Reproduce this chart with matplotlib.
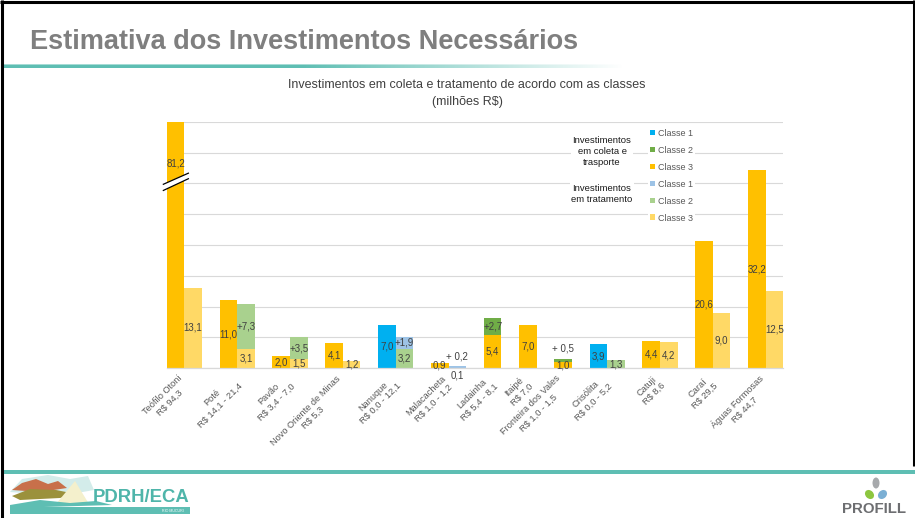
import numpy as np
import matplotlib
matplotlib.use("Agg")
import matplotlib.pyplot as plt
from matplotlib.patches import Patch, Polygon, Rectangle, Ellipse

plt.rcParams['font.family'] = ['Liberation Sans', 'DejaVu Sans']

# ---------------------------------------------------------------- data
municipios = ["Teófilo Otoni", "Poté", "Pavão", "Novo Oriente de Minas", "Nanuque",
              "Malacacheta", "Ladainha", "Itaipé", "Fronteira dos Vales", "Crisólita",
              "Catuji", "Caraí", "Águas Formosas"]
faixas = ["R$ 94,3", "R$ 14,1 - 21,4", "R$ 3,4 - 7,0", "R$ 5,3", "R$ 0,0 - 12,1",
          "R$ 1,0 - 1,2", "R$ 5,4 - 8,1", "R$ 7,0", "R$ 1,0 - 1,5", "R$ 0,0 - 5,2",
          "R$ 8,6", "R$ 29,5", "R$ 44,7"]

# investment in collection / transport (millions R$) by class
coleta_c1 = [0, 0, 0, 0, 7.0, 0, 0, 0, 0, 3.9, 0, 0, 0]
coleta_c2 = [0, 0, 0, 0, 0, 0, 2.7, 0, 0.5, 0, 0, 0, 0]
coleta_c3 = [81.2, 11.0, 2.0, 4.1, 0, 0.9, 5.4, 7.0, 1.0, 0, 4.4, 20.6, 32.2]
# investment in treatment (millions R$) by class
trat_c1 = [0, 0, 0, 0, 1.9, 0.2, 0, 0, 0, 0, 0, 0, 0]
trat_c2 = [0, 7.3, 3.5, 0, 3.2, 0.1, 0, 0, 0, 1.3, 0, 0, 0]
trat_c3 = [13.1, 3.1, 1.5, 1.2, 0, 0, 0, 0, 0, 0, 4.2, 9.0, 12.5]

classes = ["Classe 1", "Classe 2", "Classe 3"]

# ---------------------------------------------------------------- style
cor_coleta = ["#00B0F0", "#70AD47", "#FFC000"]
cor_trat = ["#9DC3E6", "#A9D18E", "#FFD966"]
TEAL = "#5EBEB3"
TXT = "#404040"
YMAX = 40

W, H = 915, 518
fig = plt.figure(figsize=(W / 100, H / 100), dpi=100)


def fx(x):
    return x / W


def fy(y):
    return 1 - y / H


# background / slide decoration axes in pixel coordinates
bg = fig.add_axes([0, 0, 1, 1], zorder=-5)
bg.axis("off")

# title + fading teal rule
bg.text(30, 42, "Estimativa dos Investimentos Necessários", fontsize=19.5,
        fontweight="bold", color="#7F7F7F", ha="left", va="center")
grad_w = 620
rgba = np.zeros((4, grad_w, 4))
rgba[..., :3] = np.array([0x5E, 0xBE, 0xB3]) / 255
alpha = np.clip((grad_w - np.arange(grad_w)) / (grad_w - 300), 0, 1)
rgba[..., 3] = alpha[None, :]
rgba[0, :, 3] *= 0.55
bg.imshow(rgba, extent=(3, 3 + grad_w, 68.5, 64.5), aspect="auto", interpolation="bilinear")

# slide frame
bg.plot([0, W], [1.5, 1.5], color="black", lw=2.2, solid_capstyle="butt")
bg.plot([1.5, 1.5], [0, H], color="black", lw=2.2, solid_capstyle="butt")
bg.plot([W - 1.5, W - 1.5], [0, 466], color="black", lw=2.2, solid_capstyle="butt")

# chart title
bg.text(467, 93.5, "Investimentos em coleta e tratamento de acordo com as classes\n(milhões R$)",
        fontsize=9, color=TXT, ha="center", va="center", linespacing=1.45)

# footer rule
bg.add_patch(Rectangle((3, 469.5), W - 3, 4, color=TEAL, lw=0))

# PDRH/ECA logo
bg.add_patch(Polygon([(10, 492), (22, 479), (48, 475), (70, 479), (88, 476), (94, 490), (60, 496)],
                     closed=True, color="#D3ECEA", lw=0))
bg.add_patch(Polygon([(12, 490), (22, 483), (36, 479), (48, 484), (58, 481), (67, 488), (40, 492)],
                     closed=True, color="#C8704A", lw=0))
bg.add_patch(Polygon([(12, 496), (30, 489), (56, 490), (76, 494), (60, 498), (20, 500)],
                     closed=True, color="#9B913C", lw=0))
bg.add_patch(Polygon([(56, 504), (75, 481), (89, 504)], closed=True, color="#F4F0CC", lw=0))
bg.add_patch(Polygon([(10, 505), (40, 500), (70, 503), (96, 501), (112, 505), (10, 508)],
                     closed=True, color=TEAL, lw=0))
bg.add_patch(Rectangle((10, 507), 180, 7, color=TEAL, lw=0))
bg.text(141, 497.5, "PDRH/ECA", fontsize=13.3, fontweight="bold", color="#4FB5AA",
        ha="center", va="center")
bg.text(184, 510.8, "RIO MUCURI", fontsize=2.6, color="white", ha="right", va="center")

# PROFILL logo
bg.add_patch(Ellipse((876, 483), 7, 11, color="#A7A9AC", lw=0))
bg.add_patch(Ellipse((869.5, 494.5), 8, 10, angle=-45, color="#8DC63F", lw=0))
bg.add_patch(Ellipse((882.5, 494.5), 8, 10, angle=45, color="#7BAFD4", lw=0))
bg.text(874, 509, "PROFILL", fontsize=10.8, fontweight="bold", color="#6D6E71",
        ha="center", va="center")

bg.set_xlim(0, W)
bg.set_ylim(H, 0)

# ---------------------------------------------------------------- chart
ax = fig.add_axes([fx(166.7), fy(368.3), fx(783.3) - fx(166.7), fy(121.7) - fy(368.3)], zorder=1)

# bar slots: collection and treatment bars side by side, one empty slot between places
n = len(municipios)
x_col, x_trt, centros = [], [], []
slot = 0
for i in range(n):
    tem_trat = (trat_c1[i] + trat_c2[i] + trat_c3[i]) > 0
    x_col.append(slot)
    if tem_trat:
        x_trt.append(slot + 1)
        centros.append(slot + 0.5)
        slot += 3
    else:
        x_trt.append(None)
        centros.append(slot)
        slot += 2
ultimo = slot - 2


def fmt(v):
    return f"{v:.1f}".replace(".", ",")


def rotulo(x, y, txt, dy=0):
    ax.annotate(txt, (x, y), xytext=(0, dy), textcoords="offset points",
                ha="center", va="center", fontsize=7, color=TXT, zorder=5,
                annotation_clip=False)


for i in range(n):
    barras = [(x_col[i], [coleta_c3[i], coleta_c2[i], coleta_c1[i]], cor_coleta[::-1])]
    if x_trt[i] is not None:
        barras.append((x_trt[i], [trat_c3[i], trat_c2[i], trat_c1[i]], cor_trat[::-1]))
    for x, vals, cores in barras:
        base = 0.0
        primeiro = True
        for v, c in zip(vals, cores):
            if v <= 0:
                continue
            ax.bar(x, v, width=1.0, bottom=base, color=c, lw=0, zorder=2)
            topo = base + v
            if primeiro:
                if topo > YMAX:
                    # bar cut by the axis: break symbol and label near the top
                    xa, xb = x - 0.69, x + 0.73
                    ax.add_patch(Polygon([(xa, 28.85), (xb, 30.75), (xb, 31.65), (xa, 29.85)],
                                         closed=True, facecolor="white", edgecolor="none",
                                         zorder=4, clip_on=False))
                    ax.plot([xa, xb], [28.85, 30.75], color="black", lw=0.9, zorder=4.5, clip_on=False)
                    ax.plot([xa, xb], [29.85, 31.65], color="black", lw=0.9, zorder=4.5, clip_on=False)
                    rotulo(x, YMAX - 6.7, fmt(v))
                elif v < 0.5:
                    rotulo(x, 0, fmt(v), dy=-5)
                else:
                    rotulo(x, base + v / 2, fmt(v))
            else:
                if v < 1.0:
                    rotulo(x, topo, "+ " + fmt(v), dy=7.5)
                else:
                    rotulo(x, base + v / 2, "+" + fmt(v))
            base = topo
            primeiro = False

ax.set_xlim(-0.5, ultimo + 0.5)
ax.set_ylim(0, YMAX)
ax.set_yticks(np.arange(0, YMAX + 1, 5))
ax.yaxis.grid(True, color="#D9D9D9", lw=0.8)
ax.set_axisbelow(True)
ax.tick_params(axis="y", length=0, labelleft=False)
for s in ["left", "right", "top"]:
    ax.spines[s].set_visible(False)
ax.spines["bottom"].set_color("#D9D9D9")
ax.spines["bottom"].set_linewidth(0.9)

ax.set_xticks(centros)
ax.set_xticklabels([f"{m}\n{f}" for m, f in zip(municipios, faixas)], rotation=45,
                   ha="right", va="center", rotation_mode="anchor", multialignment="center",
                   fontsize=6.7, color="#595959", linespacing=1.25)
ax.tick_params(axis="x", length=0, pad=9)

# legend: classes for collection and treatment
handles = [Patch(facecolor=c, edgecolor="none") for c in cor_coleta + cor_trat]
leg = ax.legend(handles, classes + classes, loc="upper left",
                bbox_to_anchor=(fx(648), fy(127)), bbox_transform=fig.transFigure,
                fontsize=6.5, labelcolor="#595959", frameon=True, facecolor="white",
                edgecolor="none", framealpha=1, fancybox=False, handlelength=0.6,
                handleheight=0.6, handletextpad=0.3, labelspacing=0.88, borderpad=0.2,
                borderaxespad=0)
leg.set_zorder(6)

fig.text(fx(602), fy(151.5), "Investimentos\nem coleta e\ntrasporte", fontsize=6.8,
         color="#1A1A1A", ha="center", va="center", linespacing=1.35,
         bbox=dict(facecolor="white", edgecolor="none", pad=1))
fig.text(fx(602), fy(194), "Investimentos\nem tratamento", fontsize=6.8,
         color="#1A1A1A", ha="center", va="center", linespacing=1.35,
         bbox=dict(facecolor="white", edgecolor="none", pad=1))

fig.savefig("out.png", dpi=100, facecolor="white")
